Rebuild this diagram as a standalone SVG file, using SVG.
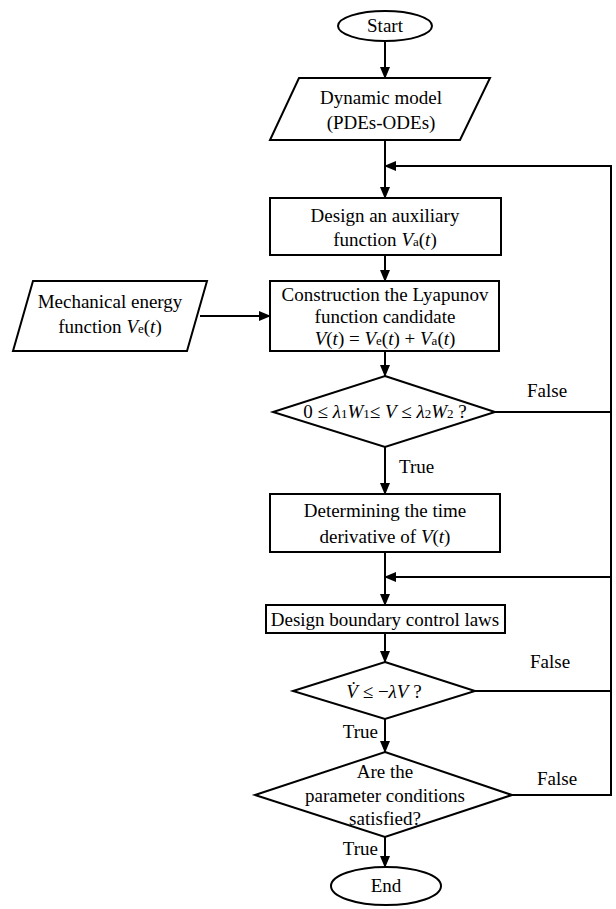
<svg xmlns="http://www.w3.org/2000/svg" width="616" height="909" viewBox="0 0 616 909">
<style>
.s{fill:#fff;stroke:#000;stroke-width:2}
text{font-family:'Liberation Serif','Times New Roman','DejaVu Serif',serif;font-size:19px;fill:#000}
.t{text-anchor:middle}
.c{fill:none;stroke:#000;stroke-width:2}
.i{font-style:italic}
.sub{font-size:13px}
</style>
<defs>
<marker id="ah" markerWidth="12" markerHeight="10" refX="11" refY="5" orient="auto" markerUnits="userSpaceOnUse">
<path d="M0,0 L12,5 L0,10 Z" fill="#000"/>
</marker>
</defs>
<rect width="616" height="909" fill="#fff"/>
<g id="connectors">
<line class="c" x1="385" y1="41" x2="385" y2="78" marker-end="url(#ah)"/>
<line class="c" x1="385" y1="140" x2="385" y2="198" marker-end="url(#ah)"/>
<line class="c" x1="385" y1="255" x2="385" y2="281" marker-end="url(#ah)"/>
<line class="c" x1="200" y1="316" x2="270" y2="316" marker-end="url(#ah)"/>
<line class="c" x1="385" y1="351" x2="385" y2="376" marker-end="url(#ah)"/>
<line class="c" x1="385" y1="447" x2="385" y2="494" marker-end="url(#ah)"/>
<line class="c" x1="385" y1="552" x2="385" y2="605" marker-end="url(#ah)"/>
<line class="c" x1="385" y1="633" x2="385" y2="662" marker-end="url(#ah)"/>
<line class="c" x1="385" y1="719" x2="385" y2="752" marker-end="url(#ah)"/>
<line class="c" x1="385" y1="837" x2="385" y2="867" marker-end="url(#ah)"/>
<polyline class="c" points="495,412 611,412"/>
<polyline class="c" points="475,691 611,691"/>
<polyline class="c" points="512,795 611,795 611,166"/>
<line class="c" x1="612" y1="166" x2="385" y2="166" marker-end="url(#ah)"/>
<line class="c" x1="612" y1="577" x2="385" y2="577" marker-end="url(#ah)"/>
<text x="527" y="397">False</text>
<text x="399" y="473">True</text>
<text x="530" y="668">False</text>
<text x="378" y="738" text-anchor="end">True</text>
<text x="537" y="785">False</text>
<text x="378" y="855" text-anchor="end">True</text>
</g>
<g id="start">
<ellipse class="s" cx="385" cy="26" rx="47" ry="15"/>
<text class="t" x="385" y="32">Start</text>
</g>
<g id="dynamic-model">
<polygon class="s" points="299,78 490,78 460,140 270,140"/>
<text class="t" x="381" y="104">Dynamic model</text>
<text class="t" x="381" y="129">(PDEs-ODEs)</text>
</g>
<g id="auxiliary">
<rect class="s" x="270" y="198" width="231" height="57"/>
<text class="t" x="385" y="222">Design an auxiliary</text>
<text class="t" x="385" y="246">function <tspan class="i">V</tspan><tspan class="sub">a</tspan>(<tspan class="i">t</tspan>)</text>
</g>
<g id="mechanical">
<polygon class="s" points="33,281 207,281 187,351 13,351"/>
<text class="t" x="110" y="308">Mechanical energy</text>
<text class="t" x="110" y="333">function <tspan class="i">V</tspan><tspan class="sub">e</tspan>(<tspan class="i">t</tspan>)</text>
</g>
<g id="construction">
<rect class="s" x="270" y="281" width="229" height="70"/>
<text class="t" x="385" y="301">Construction the Lyapunov</text>
<text class="t" x="385" y="323">function candidate</text>
<text class="t" x="385" y="345"><tspan class="i">V</tspan>(<tspan class="i">t</tspan>) = <tspan class="i">V</tspan><tspan class="sub">e</tspan>(<tspan class="i">t</tspan>) + <tspan class="i">V</tspan><tspan class="sub">a</tspan>(<tspan class="i">t</tspan>)</text>
</g>
<g id="decision1">
<polygon class="s" points="385,376 495,412 385,447 273,412"/>
<text class="t" x="385" y="418">0 ≤ <tspan class="i">λ</tspan><tspan class="sub">1</tspan><tspan class="i">W</tspan><tspan class="sub">1</tspan>≤ <tspan class="i">V</tspan> ≤ <tspan class="i">λ</tspan><tspan class="sub">2</tspan><tspan class="i">W</tspan><tspan class="sub">2</tspan> ?</text>
</g>
<g id="derivative">
<rect class="s" x="270" y="494" width="230" height="58"/>
<text class="t" x="385" y="517">Determining the time</text>
<text class="t" x="385" y="543">derivative of <tspan class="i">V</tspan>(<tspan class="i">t</tspan>)</text>
</g>
<g id="control">
<rect class="s" x="266" y="605" width="239" height="28"/>
<text class="t" x="385" y="626">Design boundary control laws</text>
</g>
<g id="decision2">
<polygon class="s" points="385,662 475,691 385,719 293,691"/>
<text class="t" x="384" y="698"><tspan class="i">V̇</tspan> ≤ −<tspan class="i">λV</tspan> ?</text>
</g>
<g id="decision3">
<polygon class="s" points="385,752 512,795 385,837 255,795"/>
<text class="t" x="385" y="778">Are the</text>
<text class="t" x="385" y="802">parameter conditions</text>
<text class="t" x="385" y="825">satisfied?</text>
</g>
<g id="end">
<ellipse class="s" cx="386" cy="886" rx="55" ry="19"/>
<text class="t" x="386" y="892">End</text>
</g>
</svg>
